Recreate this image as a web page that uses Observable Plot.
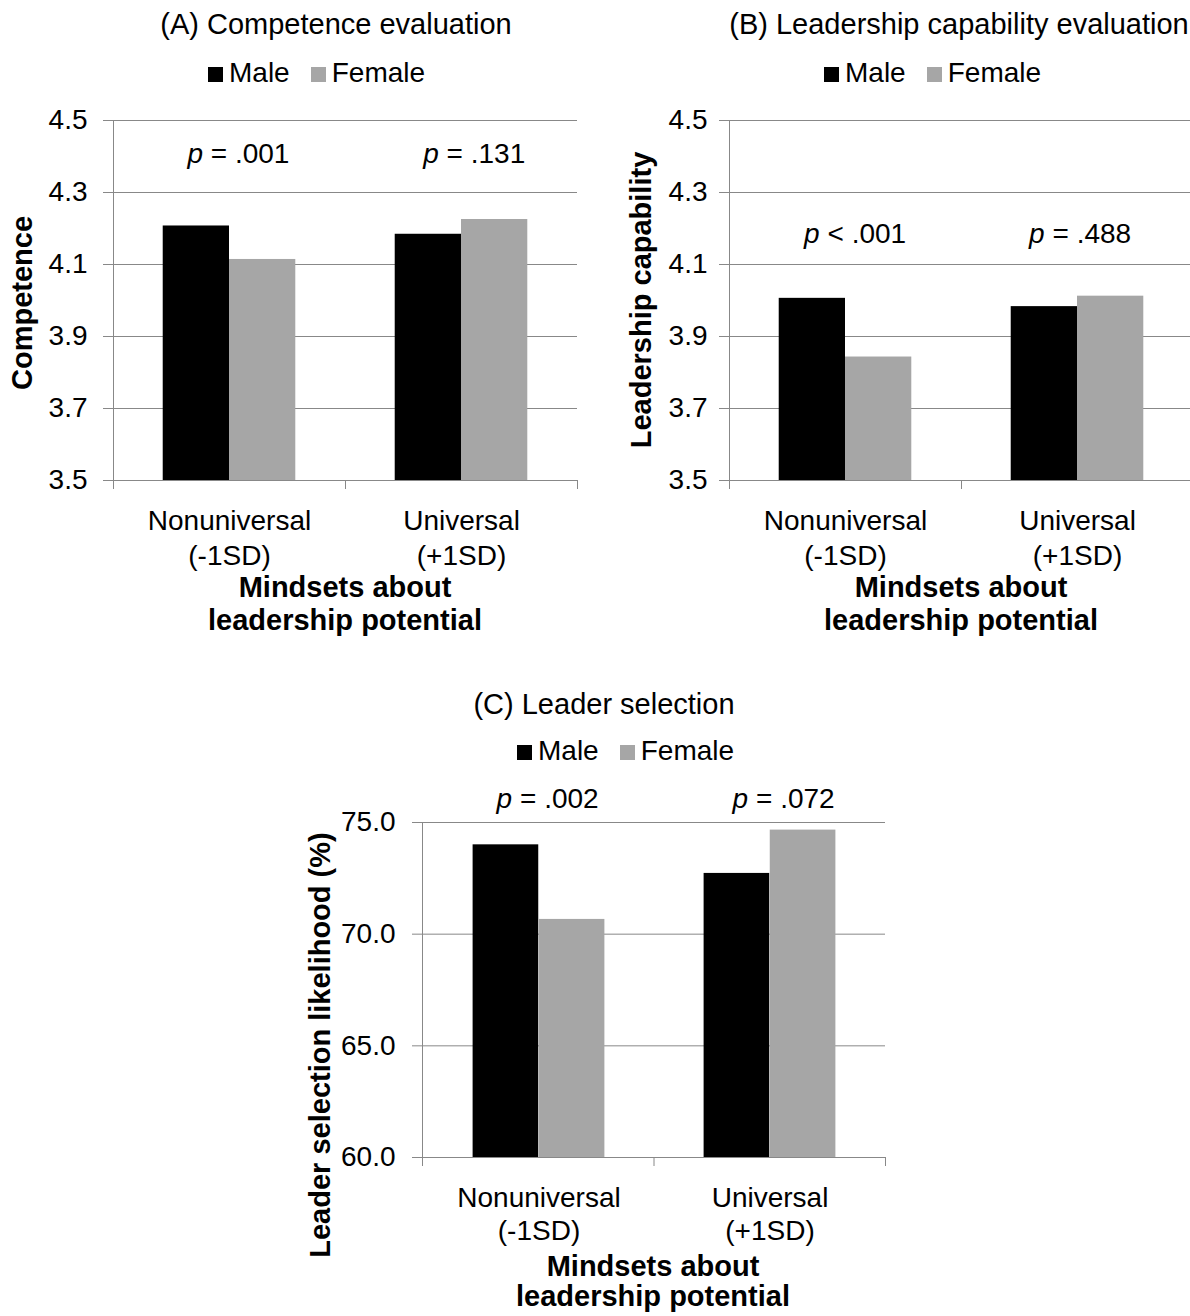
<!DOCTYPE html>
<html>
<head>
<meta charset="utf-8">
<script src="https://cdn.jsdelivr.net/npm/d3@7"></script>
<script src="https://cdn.jsdelivr.net/npm/@observablehq/plot@0.6"></script>
<style>
  html, body { margin: 0; padding: 0; background: #fff; }
  #root { position: relative; width: 1190px; height: 1316px; overflow: hidden; background: #fff;
          font-family: Arial, "Liberation Sans", Helvetica, sans-serif; color: #000; }
  .lbl { position: absolute; white-space: nowrap; line-height: 1; }
  .sw { display: inline-block; width: 15px; height: 15px; margin-right: 6px; vertical-align: baseline; }
  .panel { position: absolute; }
  .panel svg { max-width: none !important; }
  [aria-label="y-axis"] line { stroke: #888888; }
  [aria-label="y-axis tick"], [aria-label="y-axis tick"] path { stroke: #888888; }
</style>
</head>
<body>
<div id="root"></div>
<script>
// ---------------- data ----------------
const categories = ["Nonuniversal", "Universal"];
const categoryLabels = ["Nonuniversal\n(-1SD)", "Universal\n(+1SD)"];
const seriesNames = ["Male", "Female"];

const competenceMale = [4.207, 4.184];
const competenceFemale = [4.114, 4.225];
const competenceTicks = [3.5, 3.7, 3.9, 4.1, 4.3, 4.5];
const competenceP = ["= .001", "= .131"];

const leadershipMale = [4.006, 3.983];
const leadershipFemale = [3.843, 4.012];
const leadershipTicks = [3.5, 3.7, 3.9, 4.1, 4.3, 4.5];
const leadershipP = ["< .001", "= .488"];

const selectionMale = [74.0, 72.72];
const selectionFemale = [70.66, 74.66];
const selectionTicks = [60, 65, 70, 75];
const selectionP = ["= .002", "= .072"];

const panelTitles = ["(A) Competence evaluation", "(B) Leadership capability evaluation", "(C) Leader selection"];
const yTitles = ["Competence", "Leadership capability", "Leader selection likelihood (%)"];
const xTitle = ["Mindsets about", "leadership potential"];

// ---------------- styles ----------------
const FONT = "Arial, 'Liberation Sans', Helvetica, sans-serif";
const GRID = "#888888";
const COLORS = {Male: "#000000", Female: "#a6a6a6"};
const root = document.getElementById("root");

function addText(text, {x, baseline, size = 28, bold = false, italic = false, anchor = "middle"}) {
  const d = document.createElement("div");
  d.className = "lbl";
  d.textContent = text;
  d.style.fontSize = size + "px";
  d.style.fontWeight = bold ? "bold" : "normal";
  if (italic) d.style.fontStyle = "italic";
  d.style.top = (baseline - 0.8465 * size) + "px";
  d.style.left = x + "px";
  if (anchor === "middle") d.style.transform = "translateX(-50%)";
  root.appendChild(d);
  return d;
}

function addYTitle(text, cx, cy, size = 29) {
  const d = document.createElement("div");
  d.className = "lbl";
  d.textContent = text;
  d.style.fontSize = size + "px";
  d.style.fontWeight = "bold";
  d.style.left = cx + "px";
  d.style.top = cy + "px";
  d.style.transform = "translate(-50%, -50%) rotate(-90deg)";
  root.appendChild(d);
}

function addLegend(left, baseline, size = 28) {
  const d = document.createElement("div");
  d.className = "lbl";
  d.style.fontSize = size + "px";
  d.style.left = left + "px";
  d.style.top = (baseline - 0.8465 * size) + "px";
  seriesNames.forEach((name, i) => {
    const sw = document.createElement("span");
    sw.className = "sw";
    sw.style.background = COLORS[name];
    if (i > 0) sw.style.marginLeft = "21px";
    d.appendChild(sw);
    d.appendChild(document.createTextNode(name));
  });
  root.appendChild(d);
}

// axis line on the left and category boundary tick marks (Excel style)
function axisDecor(n, tickLen = 9) {
  return (index, scales, values, dims) => {
    const {width, height, marginLeft, marginRight, marginTop, marginBottom} = dims;
    const g = d3.create("svg:g").attr("stroke", GRID).attr("stroke-width", 1);
    const x0 = marginLeft + 0.5, x1 = width - marginRight + 0.5;
    const yb = height - marginBottom;
    g.append("line").attr("x1", x0).attr("x2", x0).attr("y1", marginTop).attr("y2", yb + tickLen);
    for (let i = 1; i <= n; i++) {
      const x = x0 + (x1 - x0) * i / n;
      g.append("line").attr("x1", x).attr("x2", x).attr("y1", yb).attr("y2", yb + tickLen);
    }
    return g.node();
  };
}

function panel(cfg) {
  const {left, top, width, height, marginLeft, marginRight, marginTop, marginBottom,
         domain, ticks, tickFormat, male, female, pRel, pLevel, pDx, tickPadding,
         catDy, catLineHeight} = cfg;
  const innerW = width - marginLeft - marginRight;
  const band = innerW / categories.length;
  const bw = band / 3.5;   // Excel gap width 150%
  const rows = categories.flatMap((c, i) => [
    {cat: c, series: "Male", value: male[i]},
    {cat: c, series: "Female", value: female[i]}
  ]);
  const pMarks = categories.flatMap((c, i) => [
    Plot.text([c], {x: d => d, y: pLevel, text: () => "p", fontStyle: "italic", textAnchor: "end",
                    lineAnchor: "bottom", dx: pDx[i] - 7.8, fontSize: 28}),
    Plot.text([c], {x: d => d, y: pLevel, text: () => pRel[i], textAnchor: "start",
                    lineAnchor: "bottom", dx: pDx[i], fontSize: 28})
  ]);
  const chart = Plot.plot({
    width, height, marginLeft, marginRight, marginTop, marginBottom,
    style: {fontFamily: FONT, fontSize: "28px", background: "transparent", color: "#000",
            overflow: "visible", maxWidth: "none"},
    x: {domain: categories, padding: 0, axis: null},
    y: {domain, ticks, tickFormat, tickSize: 10, tickPadding, label: null},
    marks: [
      Plot.ruleY(ticks, {stroke: GRID, strokeWidth: 1}),
      Plot.barY(rows.filter(d => d.series === "Male"),
        {x: "cat", y1: domain[0], y2: "value", fill: COLORS.Male, insetLeft: 0.75 * bw, insetRight: 1.75 * bw}),
      Plot.barY(rows.filter(d => d.series === "Female"),
        {x: "cat", y1: domain[0], y2: "value", fill: COLORS.Female, insetLeft: 1.75 * bw, insetRight: 0.75 * bw}),
      axisDecor(categories.length),
      Plot.text(categories, {x: d => d, y: domain[0], text: (d, i) => categoryLabels[i],
        lineAnchor: "top", dy: catDy, lineHeight: catLineHeight, fontSize: 28}),
      ...pMarks
    ]
  });
  const wrap = document.createElement("div");
  wrap.className = "panel";
  wrap.style.left = left + "px";
  wrap.style.top = top + "px";
  wrap.style.width = width + "px";
  wrap.style.height = height + "px";
  wrap.appendChild(chart);
  root.appendChild(wrap);
}

// ---------------- panel A ----------------
panel({left: 0, top: 100, width: 600, height: 480,
  marginLeft: 113, marginRight: 23, marginTop: 20, marginBottom: 100,
  domain: [3.5, 4.5], ticks: competenceTicks, tickFormat: d => d.toFixed(1),
  male: competenceMale, female: competenceFemale,
  pRel: competenceP, pLevel: 4.3825, pDx: [-18.7, -14.9], tickPadding: 16,
  catDy: 25, catLineHeight: 1.25});
addText(panelTitles[0], {x: 336, baseline: 35, size: 29});
addLegend(208, 83);
addText(xTitle[0], {x: 345, baseline: 598, size: 29, bold: true});
addText(xTitle[1], {x: 345, baseline: 631, size: 29, bold: true});
addYTitle(yTitles[0], 22, 303);

// ---------------- panel B ----------------
panel({left: 610, top: 100, width: 590, height: 480,
  marginLeft: 119, marginRight: 7, marginTop: 20, marginBottom: 100,
  domain: [3.5, 4.5], ticks: leadershipTicks, tickFormat: d => d.toFixed(1),
  male: leadershipMale, female: leadershipFemale,
  pRel: leadershipP, pLevel: 4.160, pDx: [-18, -25], tickPadding: 12,
  catDy: 25, catLineHeight: 1.25});
addText(panelTitles[1], {x: 959, baseline: 35, size: 29});
addLegend(824, 83);
addText(xTitle[0], {x: 961, baseline: 598, size: 29, bold: true});
addText(xTitle[1], {x: 961, baseline: 631, size: 29, bold: true});
addYTitle(yTitles[1], 641, 300);

// ---------------- panel C ----------------
panel({left: 300, top: 780, width: 600, height: 480,
  marginLeft: 122, marginRight: 15, marginTop: 42, marginBottom: 103,
  domain: [60, 75], ticks: selectionTicks, tickFormat: d => d.toFixed(1),
  male: selectionMale, female: selectionFemale,
  pRel: selectionP, pLevel: 75.66, pDx: [-19, -14], tickPadding: 17,
  catDy: 26, catLineHeight: 1.18});
addText(panelTitles[2], {x: 604, baseline: 715, size: 29});
addLegend(517, 761);
addText(xTitle[0], {x: 653, baseline: 1277, size: 29, bold: true});
addText(xTitle[1], {x: 653, baseline: 1307, size: 29, bold: true});
addYTitle(yTitles[2], 320, 1045);
</script>
</body>
</html>
